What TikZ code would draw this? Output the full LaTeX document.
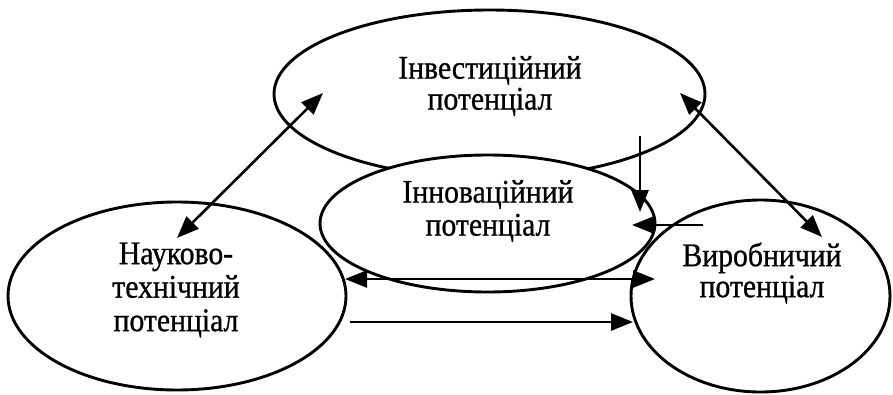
\documentclass[tikz,border=0pt]{standalone}
\usepackage{fontspec}
\setmainfont[FakeStretch=0.9, FakeBold=0.8]{Liberation Serif}
\usetikzlibrary{shapes.geometric,arrows.meta}

\tikzset{
  potential/.style={ellipse, draw=black, line width=2.9pt, inner sep=0pt},
  caption/.style={align=center, inner sep=0pt, text=black},
  link/.style={line width=2.6pt, draw=black,
    -{Triangle[length=22pt,width=17pt]}},
  twoway/.style={line width=2.6pt, draw=black,
    {Triangle[length=22pt,width=17pt]}-{Triangle[length=22pt,width=17pt]}},
}

\newcommand{\capsize}[1]{\fontsize{33}{#1}\selectfont}

\begin{document}
\begin{tikzpicture}[x=1pt, y=-1pt]
  \useasboundingbox (0,0) rectangle (893,394);

  % outer potentials
  \node[potential, minimum width=431pt, minimum height=168pt] (inv) at (489.5,94) {};
  \node[potential, minimum width=338pt, minimum height=188pt] (sci) at (177,296) {};
  \node[potential, minimum width=259pt, minimum height=192pt] (prod) at (760.5,296) {};
  % innovation potential lies on top of the others
  \node[potential, fill=white, minimum width=335pt, minimum height=137pt] (inn) at (487.5,223.5) {};

  % captions
  \node[caption, font=\capsize{31}] (invtext) at (490,86) {Інвестиційний\\потенціал};
  \node[caption, font=\capsize{33}] (inntext) at (488,211) {Інноваційний\\потенціал};
  \node[caption, font=\capsize{33.5}] (scitext) at (176,290) {Науково-\\технічний\\потенціал};
  \node[caption, font=\capsize{31}] (prodtext) at (762,273) {Виробничий\\потенціал};

  % arrow end points
  \coordinate (p1a) at (177,238);
  \coordinate (p1b) at (323,93);
  \coordinate (p2a) at (680,93);
  \coordinate (p2b) at (822,237);
  \coordinate (p3a) at (640,136);
  \coordinate (p3b) at (640,212);
  \coordinate (p4a) at (703,225);
  \coordinate (p4b) at (632,225);
  \coordinate (p5a) at (345,279);
  \coordinate (p5b) at (655,279);
  \coordinate (p6a) at (350,322);
  \coordinate (p6b) at (633,322);

  % connections
  \draw[twoway] (p1a) -- (p1b);
  \draw[twoway] (p2a) -- (p2b);
  \draw[link] (p3a) -- (p3b);
  \draw[link] (p4a) -- (p4b);
  \draw[twoway] (p5a) -- (p5b);
  \draw[link] (p6a) -- (p6b);
\end{tikzpicture}
\end{document}
